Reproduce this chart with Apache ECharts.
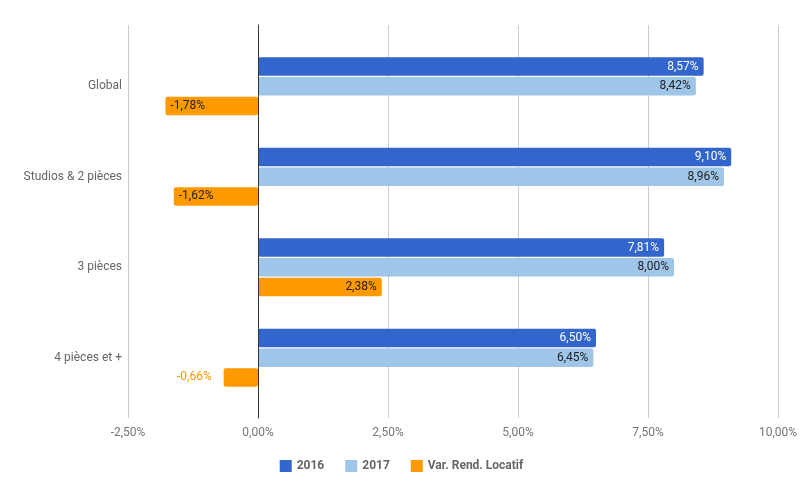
<!DOCTYPE html>
<html>
<head>
<meta charset="utf-8">
<script src="https://cdn.jsdelivr.net/npm/echarts@6/dist/echarts.min.js"></script>
<style>html,body{margin:0;padding:0;background:#fff}#c{width:803px;height:496px}</style>
</head>
<body>
<div id="c"></div>
<script>
var categories = ['Global', 'Studios & 2 pièces', '3 pièces', '4 pièces et +'];
var s2016 = [8.57, 9.10, 7.81, 6.50];
var s2017 = [8.42, 8.96, 8.00, 6.45];
var sVar = [-1.78, -1.62, 2.38, -0.66];
var seriesNames = ['2016', '2017', 'Var. Rend. Locatif'];
var xTicks = [-2.5, 0, 2.5, 5, 7.5, 10];

var FONT = 'Roboto';
function fmt(v) { return v.toFixed(2).replace('.', ',') + '%'; }

var chart = echarts.init(document.getElementById('c'), null, {renderer: 'canvas'});

function varData() {
  return sVar.map(function (v) {
    var item = {value: v};
    var barLen = Math.abs(v);
    if (v < 0 && barLen < 1) {
      item.label = {position: 'left', distance: 12, color: '#ff9900'};
    } else if (v < 0) {
      item.label = {position: 'insideLeft'};
    }
    return item;
  });
}

var option = {
  animation: false,
  textStyle: {fontFamily: FONT},
  legend: {
    data: seriesNames,
    top: 455,
    left: 'center',
    icon: 'rect',
    itemWidth: 12,
    itemHeight: 12,
    itemGap: 21,
    textStyle: {color: '#666', fontSize: 12, fontWeight: 'bold', fontFamily: FONT}
  },
  grid: [
    {left: 128, right: 25, top: 41, bottom: 93},
    {left: 128, right: 25, top: 25, bottom: 78}
  ],
  xAxis: [
    {gridIndex: 0, type: 'value', min: xTicks[0], max: xTicks[xTicks.length - 1], interval: 2.5, show: false},
    {
      gridIndex: 1, type: 'value', min: xTicks[0], max: xTicks[xTicks.length - 1], interval: 2.5,
      axisLine: {show: false}, axisTick: {show: false},
      splitLine: {show: true, lineStyle: {color: '#cccccc', width: 1}},
      axisLabel: {color: '#757575', fontSize: 12, fontFamily: FONT, margin: 9, formatter: function (v) { return fmt(v); }}
    }
  ],
  yAxis: [
    {
      gridIndex: 0, type: 'category', data: categories, inverse: true,
      axisLine: {show: false}, axisTick: {show: false}, splitLine: {show: false},
      axisLabel: {color: '#666', fontSize: 12, fontFamily: FONT, margin: 6}
    },
    {
      gridIndex: 1, type: 'value', min: 0, max: 1, z: 10,
      axisLine: {show: true, onZero: true, lineStyle: {color: '#333', width: 1}},
      axisTick: {show: false}, axisLabel: {show: false}, splitLine: {show: false}
    }
  ],
  series: [
    {
      name: seriesNames[0], type: 'bar', xAxisIndex: 0, yAxisIndex: 0, data: s2016,
      barCategoryGap: '36%', barGap: '7%',
      itemStyle: {color: '#3366cc', borderRadius: 2},
      label: {show: true, position: 'insideRight', color: '#fff', fontSize: 12, fontFamily: FONT, formatter: function (p) { return fmt(p.value); }}
    },
    {
      name: seriesNames[1], type: 'bar', xAxisIndex: 0, yAxisIndex: 0, data: s2017,
      barCategoryGap: '36%', barGap: '7%',
      itemStyle: {color: '#9fc5e8', borderRadius: 2},
      label: {show: true, position: 'insideRight', color: '#222', fontSize: 12, fontFamily: FONT, formatter: function (p) { return fmt(p.value); }}
    },
    {
      name: seriesNames[2], type: 'bar', xAxisIndex: 0, yAxisIndex: 0, data: varData(),
      barCategoryGap: '36%', barGap: '7%',
      itemStyle: {color: '#ff9900', borderRadius: 2},
      label: {show: true, position: 'insideRight', color: '#222', fontSize: 12, fontFamily: FONT, formatter: function (p) { return fmt(p.value); }}
    }
  ]
};
chart.setOption(option);
</script>
</body>
</html>
